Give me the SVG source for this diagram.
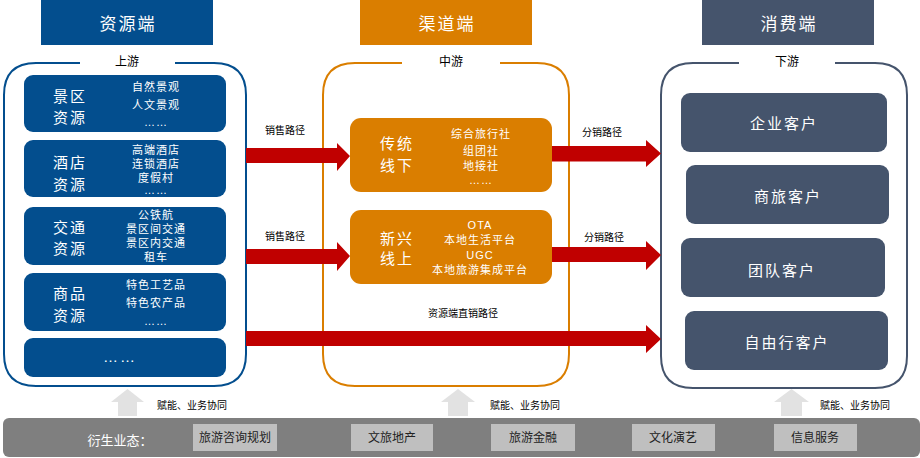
<svg xmlns="http://www.w3.org/2000/svg" width="920" height="458" viewBox="0 0 920 458">
<style>
text{font-family:"Liberation Sans","Noto Sans CJK SC",sans-serif;text-anchor:middle;dominant-baseline:central}
.hdr{font-size:17px;fill:#fff;letter-spacing:2px}
.sub{font-size:12px;fill:#000}
.big{font-size:15px;fill:#fff;letter-spacing:2px}
.sm{font-size:11px;fill:#fff;letter-spacing:1px}
.lbl{font-size:10px;fill:#000}
.blue{fill:#034E8E}
.org{fill:#DA7E00}
.sl{fill:#45546C}
.cont{fill:none;stroke-width:2}
.ra{fill:#C00000}
.ua{fill:#E2E2E2}
.gb{fill:#BFBFBF}
.gt{font-size:12px;fill:#222}
</style>
<rect width="920" height="458" fill="#fff"/>
<g id="headers">
<rect x="41" y="0" width="172" height="45" class="blue"/><text x="128" y="24" class="hdr">资源端</text>
<rect x="360" y="0" width="172" height="45" class="org"/><text x="447" y="24" class="hdr">渠道端</text>
<rect x="702" y="0" width="172" height="45" class="sl"/><text x="789" y="24" class="hdr">消费端</text>
</g>
<g id="containers">
<path class="cont" stroke="#034E8E" d="M175 63 H214 Q246 63 246 95 V354 Q246 386 214 386 H36 Q4 386 4 354 V95 Q4 63 36 63 H80"/>
<text x="127" y="62" class="sub">上游</text>
<path class="cont" stroke="#DA7E00" d="M500 63 H537 Q569 63 569 95 V354 Q569 386 537 386 H355 Q323 386 323 354 V95 Q323 63 355 63 H402"/>
<text x="451" y="62" class="sub">中游</text>
<path class="cont" stroke="#45546C" d="M835 63 H875 Q907 63 907 95 V356 Q907 388 875 388 H693 Q661 388 661 356 V95 Q661 63 693 63 H739"/>
<text x="787" y="62" class="sub">下游</text>
</g>
<g id="n-jingqu"><rect x="24" y="75" width="202" height="57" rx="9" class="blue"/>
<text x="70" y="96" class="big">景区</text><text x="70" y="117" class="big">资源</text>
<text x="156" y="87" class="sm">自然景观</text><text x="156" y="105" class="sm">人文景观</text><text x="156" y="122" class="sm">……</text></g>
<g id="n-jiudian"><rect x="24" y="140" width="202" height="57" rx="9" class="blue"/>
<text x="70" y="162" class="big">酒店</text><text x="70" y="184" class="big">资源</text>
<text x="156" y="150" class="sm">高端酒店</text><text x="156" y="164" class="sm">连锁酒店</text><text x="156" y="178" class="sm">度假村</text><text x="156" y="190" class="sm">……</text></g>
<g id="n-jiaotong"><rect x="24" y="207" width="202" height="58" rx="9" class="blue"/>
<text x="70" y="227" class="big">交通</text><text x="70" y="248" class="big">资源</text>
<text x="156" y="215" class="sm">公铁航</text><text x="156" y="229" class="sm">景区间交通</text><text x="156" y="243" class="sm">景区内交通</text><text x="156" y="257" class="sm">租车</text></g>
<g id="n-shangpin"><rect x="24" y="273" width="202" height="58" rx="9" class="blue"/>
<text x="70" y="293" class="big">商品</text><text x="70" y="315" class="big">资源</text>
<text x="156" y="285" class="sm">特色工艺品</text><text x="156" y="303" class="sm">特色农产品</text><text x="156" y="321" class="sm">……</text></g>
<g id="n-more"><rect x="24" y="338" width="202" height="39" rx="9" class="blue"/>
<text x="120" y="356" class="big">……</text></g>
<g id="n-chuantong"><rect x="350" y="118" width="202" height="74" rx="11" class="org"/>
<text x="397" y="143" class="big">传统</text><text x="397" y="165" class="big">线下</text>
<text x="481" y="134" class="sm">综合旅行社</text><text x="481" y="151" class="sm">组团社</text><text x="481" y="166" class="sm">地接社</text><text x="481" y="180" class="sm">……</text></g>
<g id="n-xinxing"><rect x="350" y="210" width="202" height="74" rx="11" class="org"/>
<text x="397" y="238" class="big">新兴</text><text x="397" y="258" class="big">线上</text>
<text x="480" y="225" class="sm">OTA</text><text x="480" y="240" class="sm">本地生活平台</text><text x="480" y="255" class="sm">UGC</text><text x="480" y="270" class="sm">本地旅游集成平台</text></g>
<g id="n-qiye"><rect x="681" y="93" width="206" height="59" rx="9" class="sl"/><text x="784" y="123" class="big">企业客户</text></g>
<g id="n-shanglv"><rect x="686" y="165" width="203" height="59" rx="9" class="sl"/><text x="788" y="196" class="big">商旅客户</text></g>
<g id="n-tuandui"><rect x="681" y="238" width="204" height="59" rx="9" class="sl"/><text x="782" y="270" class="big">团队客户</text></g>
<g id="n-ziyou"><rect x="685" y="311" width="203" height="59" rx="9" class="sl"/><text x="787" y="342" class="big">自由行客户</text></g>
<g id="connectors">
<path class="ra" d="M246 148 H337 V143 L350 156 L337 171 V163 H246 Z"/>
<path class="ra" d="M246 249 H337 V242 L350 256 L337 271 V264 H246 Z"/>
<path class="ra" d="M552 146 H646 V140 L661 153.5 L646 167 V161.5 H552 Z"/>
<path class="ra" d="M552 247 H646 V241 L661 255 L646 270 V262 H552 Z"/>
<path class="ra" d="M246 331 H646 V325 L661 339 L646 353 V346 H246 Z"/>
<text x="285" y="130" class="lbl">销售路径</text>
<text x="285" y="236" class="lbl">销售路径</text>
<text x="602" y="132" class="lbl">分销路径</text>
<text x="604" y="237" class="lbl">分销路径</text>
<text x="463" y="313" class="lbl">资源端直销路径</text>
<path class="ua" d="M118 416 V402 H111 L127.5 389 L144 402 H137 V416 Z"/>
<path class="ua" d="M448 416 V402 H441 L458 389 L475 402 H468 V416 Z"/>
<path class="ua" d="M781 416 V402 H774 L791.5 389 L809 402 H802 V416 Z"/>
<text x="192" y="405" class="lbl">赋能、业务协同</text>
<text x="525" y="405" class="lbl">赋能、业务协同</text>
<text x="855" y="405" class="lbl">赋能、业务协同</text>
</g>
<g id="derived">
<rect x="3" y="418" width="917" height="39" rx="6" fill="#7F7F7F"/>
<text x="120" y="440" font-size="13" fill="#fff">衍生业态：</text>
<rect x="193" y="424" width="84" height="27" class="gb"/><text x="235" y="438" class="gt">旅游咨询规划</text>
<rect x="351" y="424" width="82" height="27" class="gb"/><text x="392" y="438" class="gt">文旅地产</text>
<rect x="491" y="424" width="84" height="27" class="gb"/><text x="533" y="438" class="gt">旅游金融</text>
<rect x="632" y="424" width="83" height="27" class="gb"/><text x="673" y="438" class="gt">文化演艺</text>
<rect x="774" y="424" width="83" height="27" class="gb"/><text x="815" y="438" class="gt">信息服务</text>
</g>
</svg>
